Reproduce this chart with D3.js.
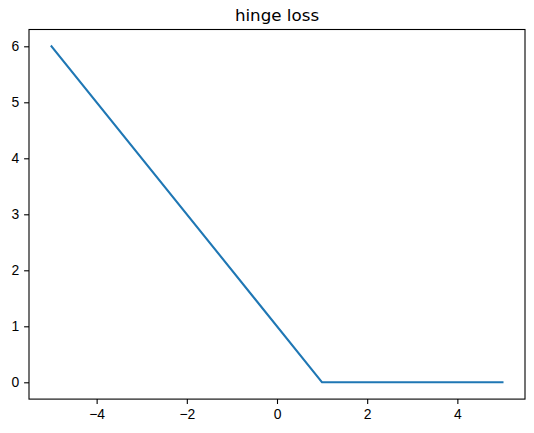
<!DOCTYPE html>
<html>
<head>
<meta charset="utf-8">
<script src="https://cdn.jsdelivr.net/npm/d3@7"></script>
<style>
  body { margin: 0; background: #fff; }
  svg { display: block; font-family: "DejaVu Sans", sans-serif; }
</style>
</head>
<body>
<div id="chart"></div>
<script>
// hinge loss: max(0, 1 - x), read at its corner points
const xValues = [-5, 1, 5];
const yValues = [6, 0, 0];
const xTicks = [-4, -2, 0, 2, 4];
const yTicks = [0, 1, 2, 3, 4, 5, 6];
const title = "hinge loss";

const w = 534, h = 433;
const padLeft = 29, padTop = 29.5, plotW = 496, plotH = 369.6;

const svg = d3.select("#chart").append("svg")
    .attr("width", w).attr("height", h);

const x = d3.scaleLinear().domain([-5.5, 5.5]).range([padLeft, padLeft + plotW]);
const y = d3.scaleLinear().domain([-0.3, 6.3]).range([padTop + plotH, padTop]);

const fmt = d => (d < 0 ? "\u2212" + Math.abs(d) : String(d));

/* axes */
const xAxis = d3.axisBottom(x).tickValues(xTicks).tickFormat(fmt).tickSize(4.9).tickPadding(4.9);
const yAxis = d3.axisLeft(y).tickValues(yTicks).tickFormat(fmt).tickSize(4.9).tickPadding(4.9);

const gx = svg.append("g").attr("transform", `translate(0,${padTop + plotH})`).call(xAxis);
const gy = svg.append("g").attr("transform", `translate(${padLeft},0)`).call(yAxis);
[gx, gy].forEach(g => {
  g.select(".domain").remove();
  g.selectAll(".tick line").attr("stroke", "#000").attr("stroke-width", 1.1);
  g.selectAll(".tick text").attr("fill", "#000").style("font-size", "13.9px");
});

/* the line */
const pts = xValues.map((v, i) => [v, yValues[i]]);
svg.append("path")
    .datum(pts)
    .attr("fill", "none")
    .attr("stroke", "#1f77b4")
    .attr("stroke-width", 2.1)
    .attr("stroke-linejoin", "round")
    .attr("stroke-linecap", "square")
    .attr("d", d3.line().x(d => x(d[0])).y(d => y(d[1])));

/* frame */
svg.append("rect")
    .attr("x", padLeft).attr("y", padTop)
    .attr("width", plotW).attr("height", plotH)
    .attr("fill", "none").attr("stroke", "#000").attr("stroke-width", 1.1);

svg.append("text")
    .attr("x", padLeft + plotW / 2)
    .attr("y", padTop - 8.3)
    .attr("text-anchor", "middle")
    .style("font-size", "16.7px")
    .text(title);
</script>
</body>
</html>
